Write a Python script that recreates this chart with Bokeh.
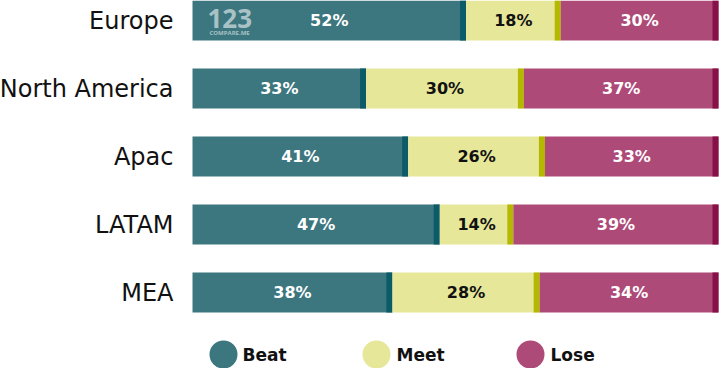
from bokeh.plotting import figure
from bokeh.models import Range1d
from bokeh.embed import file_html
from bokeh.resources import INLINE
from bokeh.core.properties import value

# ---- data ----
regions = ["Europe", "North America", "Apac", "LATAM", "MEA"]
series = ["Beat", "Meet", "Lose"]
beat = [52, 33, 41, 47, 38]
meet = [18, 30, 26, 14, 28]
lose = [30, 37, 33, 39, 34]

# ---- styles ----
colors = ["#3c767f", "#e6e798", "#ae4a78"]
edge_colors = ["#0b5c68", "#b4b800", "#861047"]
label_colors = ["#ffffff", "#111111", "#ffffff"]
FONT = "DejaVu Sans"

W, H = 719, 368
PX_PER_PCT = 5.26   # pixels per percent
X0 = 192            # pixel where 0% sits
ROW = 68            # pixels per category row
Y0 = 20             # pixel of first row centre

x_start = -X0 / PX_PER_PCT
x_end = x_start + W / PX_PER_PCT
y_top = -Y0 / ROW
y_bottom = y_top + H / ROW


def px_x(px):
    return (px - X0) / PX_PER_PCT


def px_y(py):
    return (py - Y0) / ROW


p = figure(width=W, height=H,
           x_range=Range1d(x_start, x_end),
           y_range=Range1d(y_bottom, y_top),
           output_backend="svg", toolbar_location=None,
           x_axis_location=None, y_axis_location=None,
           min_border=0, outline_line_color=None)
p.grid.visible = False
p.background_fill_color = "white"
p.border_fill_color = "white"

ys = list(range(len(regions)))
bar_h = 40 / ROW
edge_w = 6 / PX_PER_PCT

left = [0] * len(regions)
for k, vals in enumerate([beat, meet, lose]):
    right = [l + v for l, v in zip(left, vals)]
    p.hbar(y=ys, left=left, right=right, height=bar_h,
           fill_color=colors[k], line_color=None)
    p.hbar(y=ys, left=[r - edge_w for r in right], right=right, height=bar_h,
           fill_color=edge_colors[k], line_color=None)
    p.text(x=[(l + r) / 2 for l, r in zip(left, right)], y=ys,
           text=[f"{v}%" for v in vals],
           text_align="center", text_baseline="middle",
           text_font=value(FONT), text_font_style="bold",
           text_font_size="16px", text_color=label_colors[k])
    left = right

# category labels
p.text(x=[px_x(173)] * len(regions), y=ys, text=regions,
       text_align="right", text_baseline="middle",
       text_font=value(FONT), text_font_size="24px", text_color="#111111")

# watermark
p.text(x=[px_x(207)], y=[px_y(18)], text=["123"],
       text_align="left", text_baseline="middle",
       text_font=value("Open Sans"), text_font_style="bold",
       text_font_size="26px", text_color="#a9c2c5")
p.text(x=[px_x(209)], y=[px_y(32)], text=["COMPARE.ME"],
       text_align="left", text_baseline="middle",
       text_font=value("Open Sans"), text_font_style="bold",
       text_font_size="6px", text_color="#a9c2c5")

# legend
leg_y = px_y(354)
circle_x = [px_x(223), px_x(376), px_x(530)]
text_x = [px_x(242), px_x(396), px_x(550)]
p.scatter(x=circle_x, y=[leg_y] * 3, size=28, marker="circle",
          fill_color=colors, line_color=None)
p.text(x=text_x, y=[leg_y] * 3, text=series,
       text_align="left", text_baseline="middle",
       text_font=value(FONT), text_font_style="bold",
       text_font_size="17px", text_color="#111111")

open("out.html", "w").write(file_html(p, INLINE))
